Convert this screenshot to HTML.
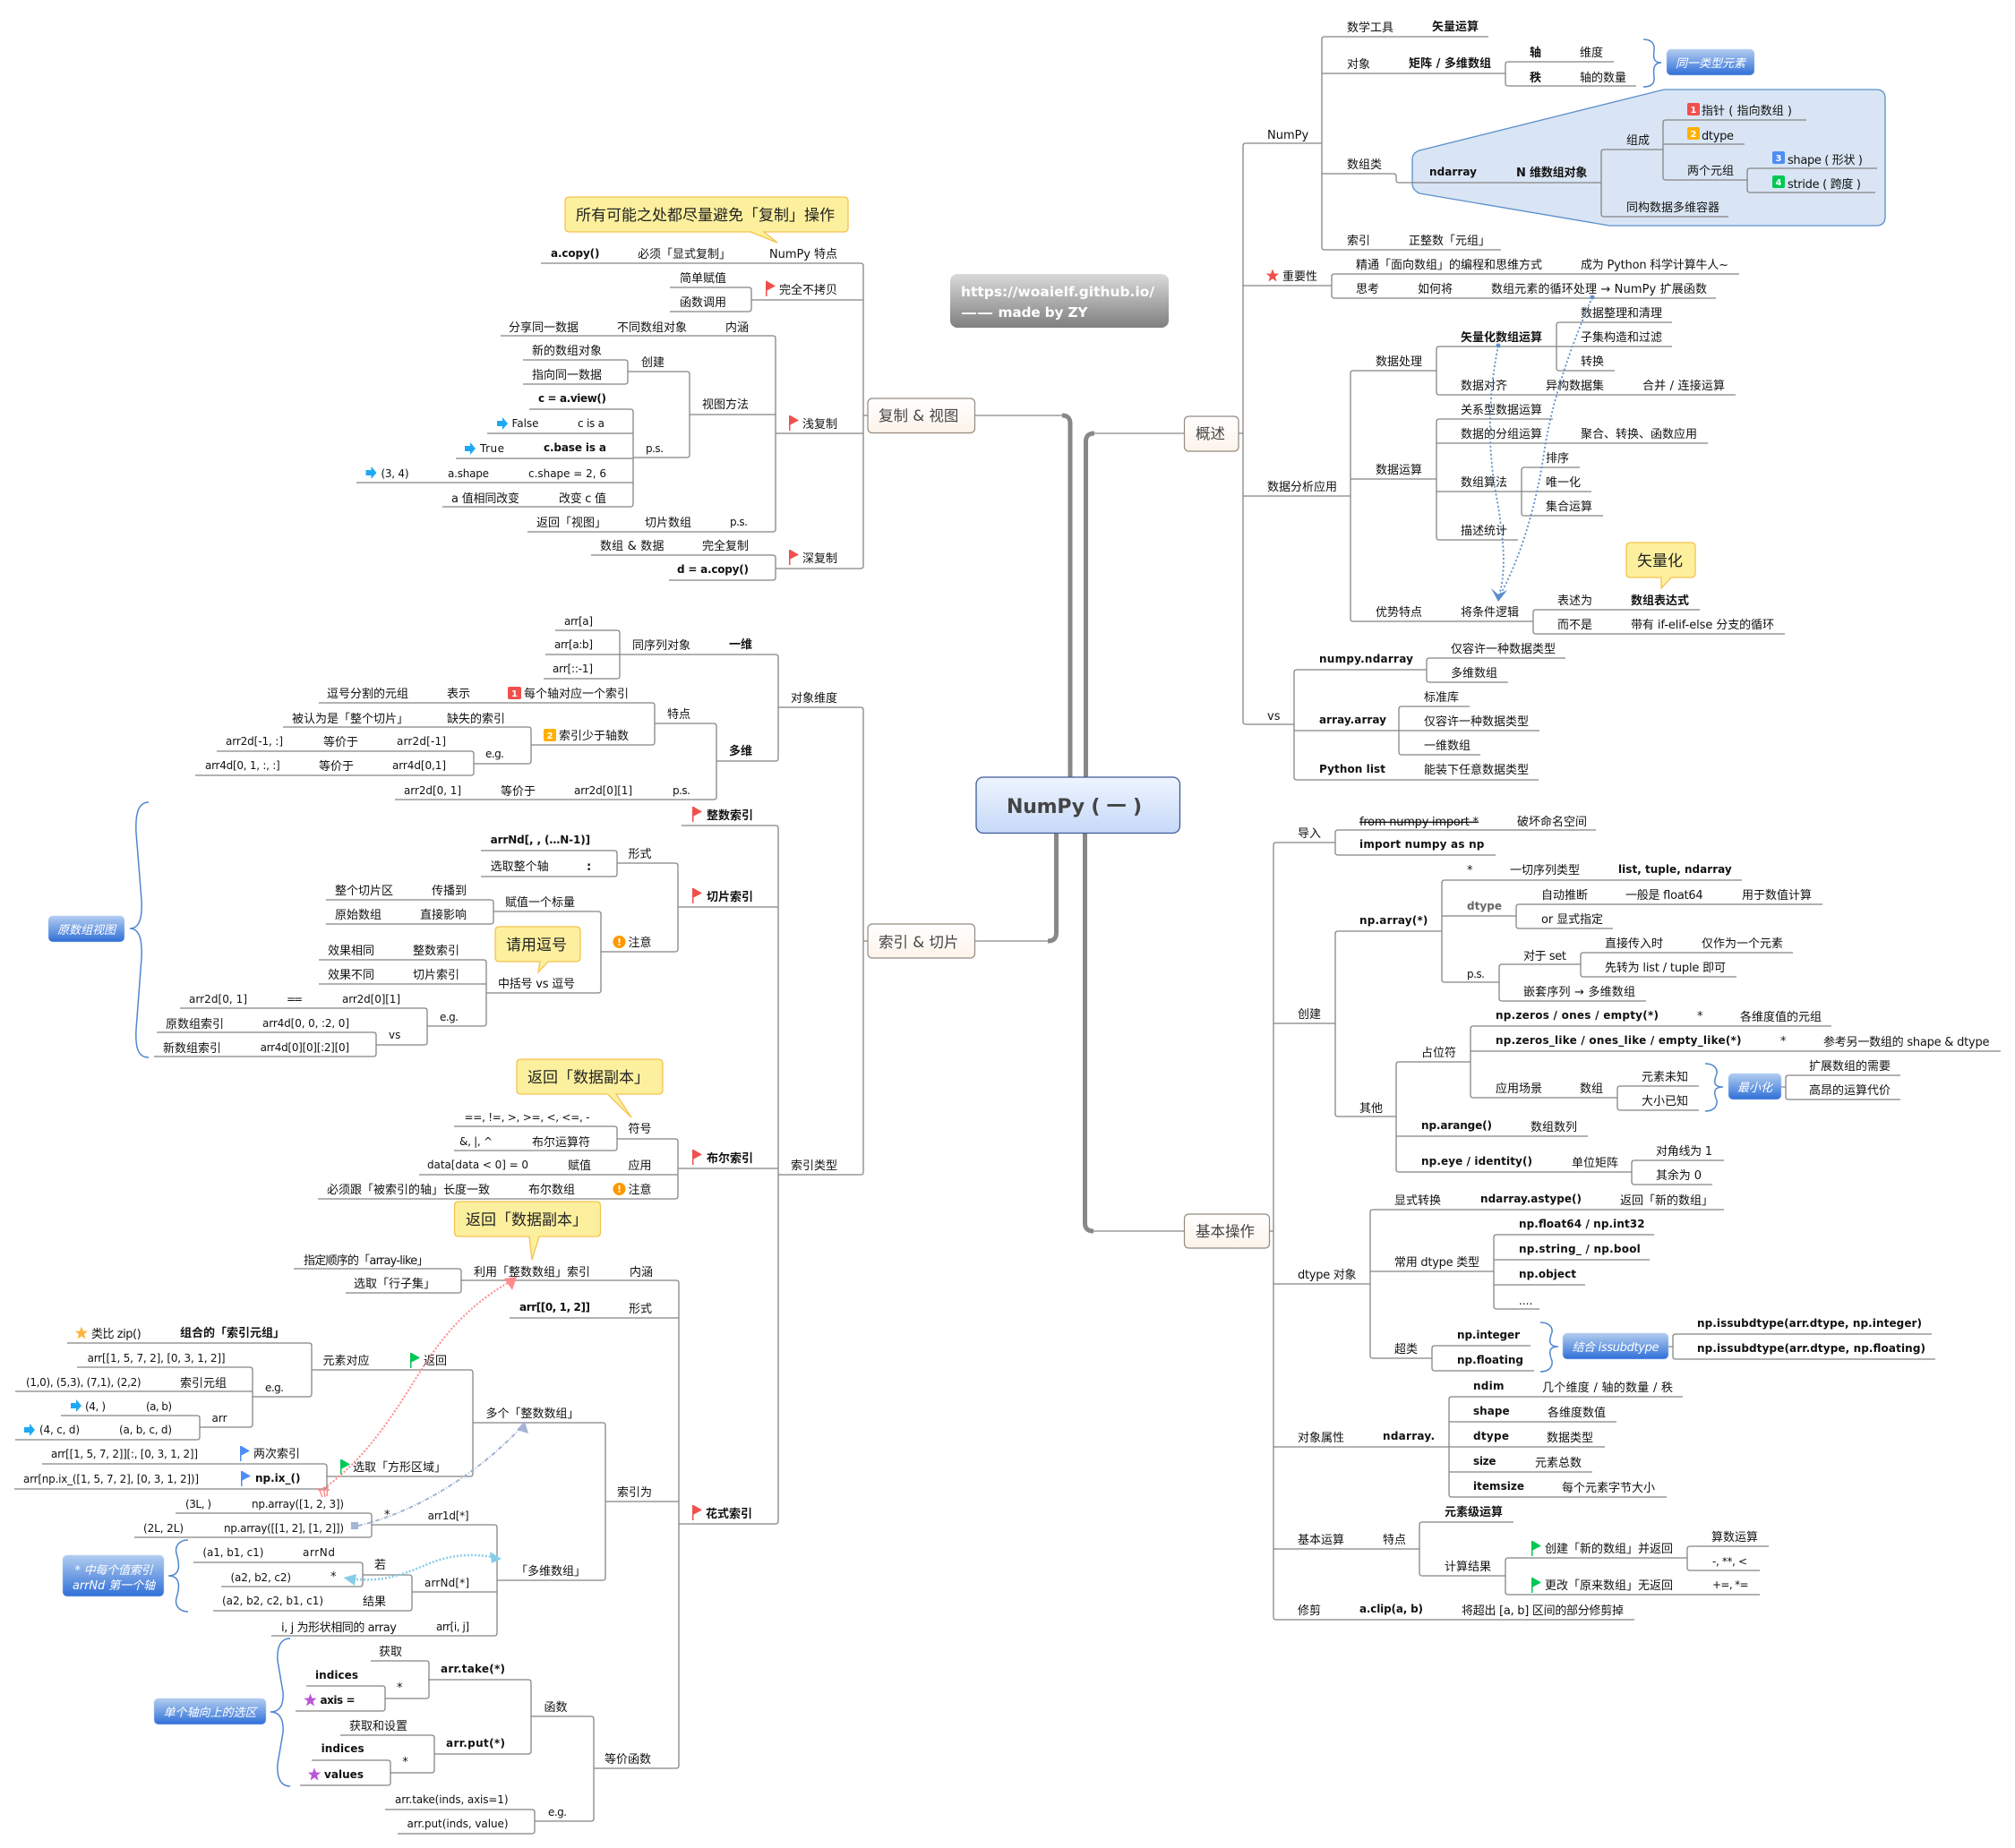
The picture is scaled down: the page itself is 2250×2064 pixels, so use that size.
<!DOCTYPE html>
<html lang="zh"><head><meta charset="utf-8"><title>NumPy (一)</title>
<style>
html,body{margin:0;padding:0;background:#fff}
svg{display:block}
text{font-family:"DejaVu Sans","Noto Sans CJK SC",sans-serif;font-size:13px;fill:#111;white-space:pre}
.b{font-weight:bold;font-size:12px;transform:translateY(-1px)}
.r{font-size:12px;transform:translateY(-1px)}
.c{font-weight:bold}
.g{fill:#666;font-weight:bold;font-size:12px}
.m{font-size:17px;fill:#222}
.h{font-size:16.5px;fill:#444}
.w{fill:#fff;font-style:italic;text-anchor:middle}
.n{fill:#fff;font-size:10px;font-weight:bold;text-anchor:middle}
.k{fill:#fff;font-weight:bold;font-size:15.4px}
.l{fill:none;stroke:#858585;stroke-width:1.3}
.br{fill:none;stroke:#4f86d0;stroke-width:1.5}
.cal{fill:#fcf09e;stroke:#f5c24f;stroke-width:1.3}
.sm{fill:url(#blue);stroke:#b9d0f0;stroke-width:.5}
.top{fill:url(#peach);stroke:#938a80;stroke-width:1.2}
</style></head><body>
<svg xmlns="http://www.w3.org/2000/svg" width="2250" height="2064" viewBox="0 0 2250 2064">
<defs>
<linearGradient id="blue" x1="0" y1="0" x2="0" y2="1"><stop offset="0" stop-color="#b3cdf0"/><stop offset="1" stop-color="#2f6fd8"/></linearGradient>
<linearGradient id="peach" x1="0" y1="0" x2="0" y2="1"><stop offset="0" stop-color="#ffffff"/><stop offset="1" stop-color="#fdf3ea"/></linearGradient>
<linearGradient id="root" x1="0" y1="0" x2="0" y2="1"><stop offset="0" stop-color="#eef4fe"/><stop offset="1" stop-color="#c6d9f8"/></linearGradient>
<linearGradient id="gray" x1="0" y1="0" x2="0" y2="1"><stop offset="0" stop-color="#dadada"/><stop offset="1" stop-color="#7f7f7f"/></linearGradient>
<path id="flag" d="M0-8h1.5l9.500 5.500-9.500 5v6.500h-1.500z"/>
<polygon id="star" points="0,-7.500 2,-2.400 7.200,-2.400 3,1 4.500,6.500 0,3.400 -4.500,6.500 -3,1 -7.200,-2.400 -2,-2.400"/>
<path id="arr" d="M0-3h6v-4l6 7-6 7v-4h-6z"/>
</defs>

<!-- stems -->
<g fill="none" stroke="#b5b5b5" stroke-width="2">
<path d="M1088 464H1187"/><path d="M1220 484H1322"/><path d="M1089 1051H1172"/><path d="M1219 1375H1322"/>
</g>
<g fill="none" stroke="#888" stroke-width="5">
<path d="M1195 870V473Q1195 464 1186 464"/>
<path d="M1212.500 870V493Q1212.500 484 1222 484"/>
<path d="M1179.500 928V1042Q1179.500 1051 1170 1051"/>
<path d="M1211.500 928V1366Q1211.500 1375 1221 1375"/>
</g>

<!-- ndarray highlighted boundary -->
<path d="M1858 100H2095Q2105 100 2105 110V242Q2105 252 2095 252H1797L1585 216Q1577 212 1577 205V178Q1577 171 1585 168Z" fill="#d9e5f4" stroke="#5b8fcc" stroke-width="1.300"/>

<!-- branches -->
<path class="l" d="M1476 160H1391q-3 0-3 3V806q0 3 3 3H1445M1388 319H1487M1388 554H1508M1383 484H1388
M1662 41H1479q-3 0-3 3V276q0 3 3 3H1676M1476 82H1681M1476 194H1556q3 0 3 3V201q0 3 3 3H1788
M1802 69H1684q-3 0-3 3V93q0 3 3 3H1827
M1857 167H1791q-3 0-3 3V239q0 3 3 3H1930
M2017 134H1860q-3 0-3 3V198q0 3 3 3H1951M1857 161H1948
M2096 188H1954q-3 0-3 3V212q0 3 3 3H2094
M1942 306H1490q-3 0-3 3V330q0 3 3 3H1916
M1604 414H1511q-3 0-3 3V691q0 3 3 3H1712M1508 535H1604
M1738 387H1607q-3 0-3 3V438q0 3 3 3H1938
M1867 360H1741q-3 0-3 3V411q0 3 3 3H1803M1738 387H1867
M1734 468H1607q-3 0-3 3V600q0 3 3 3H1695M1604 495H1907M1604 549H1777
M1764 522H1702q-3 0-3 3V573q0 3 3 3H1790
M1898 681H1715q-3 0-3 3V705q0 3 3 3H1993
M1593 748H1448q-3 0-3 3V868q0 3 3 3H1718M1445 816H1719
M1748 735H1596q-3 0-3 3V759q0 3 3 3H1684
M1641 789H1565q-3 0-3 3V840q0 3 3 3H1653

M1491 941H1425q-3 0-3 3V1806q0 3 3 3H1825M1422 1143H1491M1422 1434H1530M1422 1616H1792M1422 1730H1585M1417 1375H1422
M1782 927H1494q-3 0-3 3V952q0 3 3 3H1670
M1610 1040H1494q-3 0-3 3V1244q0 3 3 3H1559
M1945 983H1613q-3 0-3 3V1094q0 3 3 3H1674M1610 1023H1693
M2035 1010H1696q-3 0-3 3V1034q0 3 3 3H1801
M1765 1077H1677q-3 0-3 3V1115q0 3 3 3H1838
M2002 1064H1768q-3 0-3 3V1088q0 3 3 3H1939
M1642 1186H1562q-3 0-3 3V1306q0 3 3 3H1822M1559 1269H1773
M2045 1146H1645q-3 0-3 3V1223q0 3 3 3H1806M1642 1174H2234
M1897 1213H1809q-3 0-3 3V1237q0 3 3 3H1897
M2122 1201H1997q-3 0-3 3V1225q0 3 3 3H2122M1989 1214H1994
M1925 1296H1825q-3 0-3 3V1320q0 3 3 3H1912
M1925 1351H1533q-3 0-3 3V1514q0 3 3 3H1599M1530 1420H1668
M1847 1379H1671q-3 0-3 3V1459q0 3 3 3H1719M1668 1407H1842M1668 1435H1770
M1709 1503H1602q-3 0-3 3V1528q0 3 3 3H1713
M2157 1490H1871q-3 0-3 3V1515q0 3 3 3H2161M1863 1504H1868
M1879 1560H1621q-3 0-3 3V1669q0 3 3 3H1861M1618 1588H1805M1618 1644H1778
M1690 1700H1588q-3 0-3 3V1757q0 3 3 3H1681
M1884 1740H1684q-3 0-3 3V1778q0 3 3 3H1965
M1975 1727H1887q-3 0-3 3V1751q0 3 3 3H1965

M604 294H961q3 0 3 3V632q0 3-3 3H866M964 335H839M964 484H866M969 464H964
M748 321H836q3 0 3 3V345q0 3-3 3H748
M559 375H863q3 0 3 3V591q0 3-3 3H589M866 463H770
M701 415H767q3 0 3 3V508q0 3-3 3H707
M584 402H698q3 0 3 3V426q0 3-3 3H584
M591 457H704q3 0 3 3V563q0 3-3 3H494M707 484H544M707 512H509M707 539H398
M660 620H863q3 0 3 3V645q0 3-3 3H747
M869 790H961q3 0 3 3V1309q0 3-3 3H869M969 1051H964
M609 731H866q3 0 3 3V847q0 3-3 3H800
M620 704H689q3 0 3 3V755q0 3-3 3H607
M731 808H797q3 0 3 3V890q0 3-3 3H441
M356 785H728q3 0 3 3V829q0 3-3 3H593
M316 812H590q3 0 3 3V850q0 3-3 3H529
M242 839H526q3 0 3 3V863q0 3-3 3H218
M761 922H866q3 0 3 3V1699q0 3-3 3H758M869 1013H757M869 1305H757
M689 964H754q3 0 3 3V1060q0 3-3 3H671
M537 950H686q3 0 3 3V976q0 3-3 3H537
M551 1018H668q3 0 3 3V1106q0 3-3 3H543
M364 1005H548q3 0 3 3V1029q0 3-3 3H364
M356 1072H540q3 0 3 3V1143q0 3-3 3H477M543 1099H356
M201 1126H474q3 0 3 3V1164q0 3-3 3H420
M175 1153H417q3 0 3 3V1177q0 3-3 3H172
M689 1272H754q3 0 3 3V1336q0 3-3 3H355M757 1312H468
M507 1258H686q3 0 3 3V1282q0 3-3 3H507
M515 1430H755q3 0 3 3V1972q0 3-3 3H663M758 1472H569M758 1677H676
M328 1417H512q3 0 3 3V1441q0 3-3 3H386
M528 1589H673q3 0 3 3V1762q0 3-3 3H555
M348 1530H525q3 0 3 3V1646q0 3-3 3H365
M75 1500H345q3 0 3 3V1557q0 3-3 3H282
M86 1527H279q3 0 3 3V1591q0 3-3 3H223M282 1554H17
M68 1581H220q3 0 3 3V1605q0 3-3 3H17
M47 1635H362q3 0 3 3V1660q0 3-3 3H16
M415 1703H552q3 0 3 3V1824q0 3-3 3H303M555 1778H460
M196 1690H412q3 0 3 3V1714q0 3-3 3H150
M405 1759H457q3 0 3 3V1796q0 3-3 3H238
M216 1745H402q3 0 3 3V1769q0 3-3 3H247
M593 1917H660q3 0 3 3V2031q0 3-3 3H597
M478 1876H590q3 0 3 3V1956q0 3-3 3H485
M414 1855H476q3 0 3 3V1894q0 3-3 3H430
M342 1883H427q3 0 3 3V1908q0 3-3 3H330
M380 1938H482q3 0 3 3V1977q0 3-3 3H436
M348 1966H433q3 0 3 3V1991q0 3-3 3H335
M430 2021H594q3 0 3 3V2045q0 3-3 3H444"/>

<!-- braces -->
<path class="br" d="M1835 44C1843 44 1848 48 1847 56C1846 64 1846 70 1855 70C1846 70 1846 78 1847 86C1848 94 1843 97 1835 97"/>
<path class="br" d="M1904 1188C1912 1188 1918 1192 1917 1199C1914 1207 1912 1214 1924 1214C1912 1214 1914 1222 1917 1229C1918 1237 1912 1241 1904 1241"/>
<path class="br" d="M1720 1477C1728 1477 1734 1481 1733 1488C1730 1496 1728 1504 1740 1504C1728 1504 1730 1512 1733 1520C1734 1528 1728 1532 1720 1532"/>
<path class="br" d="M166 896C154 896 151 910 152 930L158 1005C159 1025 156 1037 145 1037C156 1037 159 1050 158 1070L152 1150C151 1170 154 1181 166 1181"/>
<path class="br" d="M210 1720C200 1720 195 1727 197 1735C200 1745 203 1760 188 1760C203 1760 200 1775 197 1785C195 1793 200 1800 210 1800"/>
<path class="br" d="M324 1830C313 1830 309 1840 310 1855L316 1890C317 1905 312 1912 302 1912C312 1912 317 1920 316 1935L310 1970C309 1985 313 1995 324 1995"/>

<!-- summary boxes -->
<rect class="sm" x="1861" y="55" width="98" height="29" rx="5"/><text class="w" x="1910" y="75">同一类型元素</text>
<rect class="sm" x="1930" y="1199" width="59" height="29" rx="5"/><text class="w" x="1959.500" y="1219">最小化</text>
<rect class="sm" x="1745" y="1489" width="118" height="29" rx="5"/><text class="w" x="1804" y="1509" textLength="97">结合 issubdtype</text>
<rect class="sm" x="54" y="1023" width="85" height="29" rx="5"/><text class="w" x="96.500" y="1043">原数组视图</text>
<rect class="sm" x="70" y="1737" width="113" height="46" rx="5"/><text class="w" x="127" y="1758" textLength="87">* 中每个值索引</text><text class="w" x="127" y="1775" textLength="92">arrNd 第一个轴</text>
<rect class="sm" x="172" y="1897" width="125" height="29" rx="5"/><text class="w" x="234.500" y="1917">单个轴向上的选区</text>

<!-- callouts -->
<path class="cal" d="M1821 606H1888q5 0 5 5V640q0 5-5 5H1866L1855 657V645H1821q-5 0-5-5V611q0-5 5-5Z"/><text class="m" x="1828" y="632">矢量化</text>
<path class="cal" d="M636 220H942q5 0 5 5V254q0 5-5 5H853L868 271L838 259H636q-5 0-5-5V225q0-5 5-5Z"/><text class="m" x="643" y="246">所有可能之处都尽量避免「复制」操作</text>
<path class="cal" d="M558 1035H643q5 0 5 5V1069q0 5-5 5H612L601 1086L603 1074H558q-5 0-5-5V1040q0-5 5-5Z"/><text class="m" x="565" y="1061">请用逗号</text>
<path class="cal" d="M582 1183H735q5 0 5 5V1217q0 5-5 5H688L705 1248L678.500 1222H582q-5 0-5-5V1188q0-5 5-5Z"/><text class="m" x="589" y="1209">返回「数据副本」</text>
<path class="cal" d="M512.500 1342H665.500q5 0 5 5V1376q0 5-5 5H602L594 1407L591 1381H512.500q-5 0-5-5V1347q0-5 5-5Z"/><text class="m" x="520" y="1368">返回「数据副本」</text>

<!-- top level boxes -->
<rect x="1090" y="868" width="227.500" height="62.500" rx="8" fill="url(#root)" stroke="#3c5a96" stroke-width="1.300"/>
<text x="1124" y="908" textLength="151" style="font-size:22px;font-weight:bold;fill:#444">NumPy ( 一 )</text>
<rect x="1061" y="306" width="244" height="60" rx="8" fill="url(#gray)"/>
<text class="k" x="1073" y="331" textLength="216">https://woaielf.github.io/</text>
<text class="k" x="1073" y="354" textLength="36" lengthAdjust="spacingAndGlyphs">——</text><text class="k" x="1114.500" y="354" textLength="100">made by ZY</text>
<rect class="top" x="1322.500" y="465" width="60.500" height="39" rx="5"/><text class="h" x="1335" y="490">概述</text>
<rect class="top" x="1322.500" y="1356" width="95" height="38" rx="5"/><text class="h" x="1335" y="1381">基本操作</text>
<rect class="top" x="969" y="445" width="119.500" height="38.500" rx="5"/><text class="h" x="981" y="470">复制 &amp; 视图</text>
<rect class="top" x="969" y="1032" width="119.500" height="38" rx="5"/><text class="h" x="981" y="1058">索引 &amp; 切片</text>

<!-- 概述 text -->
<text x="1415" y="155">NumPy</text>
<text x="1504" y="35">数学工具</text><text class="c" x="1599" y="34">矢量运算</text>
<text x="1504" y="76">对象</text><text class="c" x="1573" y="75" textLength="92">矩阵 / 多维数组</text>
<text class="c" x="1708" y="63">轴</text><text x="1764" y="63">维度</text>
<text class="c" x="1708" y="91">秩</text><text x="1764" y="91">轴的数量</text>
<text x="1504" y="188">数组类</text>
<text class="b" x="1596" y="197" textLength="53">ndarray</text><text class="c" x="1693" y="197" textLength="79.400">N 维数组对象</text>
<text x="1816" y="161">组成</text><text x="1816" y="236">同构数据多维容器</text>
<rect x="1884" y="115" width="14" height="14" rx="2" fill="#f0504d"/><text class="n" x="1891" y="126">1</text><text x="1900" y="128" textLength="101">指针 ( 指向数组 )</text>
<rect x="1884" y="142" width="14" height="14" rx="2" fill="#ffb000"/><text class="n" x="1891" y="153">2</text><text x="1900" y="156" textLength="36">dtype</text>
<text x="1884" y="195">两个元组</text>
<rect x="1979" y="169" width="14" height="14" rx="2" fill="#4e8df5"/><text class="n" x="1986" y="180">3</text><text x="1996" y="183" textLength="84">shape ( 形状 )</text>
<rect x="1979" y="196" width="14" height="14" rx="2" fill="#00c853"/><text class="n" x="1986" y="207">4</text><text x="1996" y="210" textLength="82">stride ( 跨度 )</text>
<text x="1504" y="273">索引</text><text x="1573" y="273">正整数「元组」</text>
<use href="#star" x="1421" y="308" fill="#f0504d"/><text x="1432" y="313">重要性</text>
<text x="1514" y="300">精通「面向数组」的编程和思维方式</text><text x="1765" y="300" textLength="165">成为 Python 科学计算牛人~</text>
<text x="1514" y="327">思考</text><text x="1583" y="327">如何将</text><text x="1665" y="327" textLength="241">数组元素的循环处理 → NumPy 扩展函数</text>
<text x="1415" y="548">数据分析应用</text>
<text x="1536" y="408">数据处理</text>
<text class="c" x="1631" y="381">矢量化数组运算</text>
<text x="1765" y="354">数据整理和清理</text><text x="1765" y="381">子集构造和过滤</text><text x="1765" y="408">转换</text>
<text x="1631" y="435">数据对齐</text><text x="1726" y="435">异构数据集</text><text x="1834" y="435" textLength="92">合并 / 连接运算</text>
<text x="1536" y="529">数据运算</text>
<text x="1631" y="462">关系型数据运算</text>
<text x="1631" y="489">数据的分组运算</text><text x="1765" y="489">聚合、转换、函数应用</text>
<text x="1631" y="543">数组算法</text><text x="1726" y="516">排序</text><text x="1726" y="543">唯一化</text><text x="1726" y="570">集合运算</text>
<text x="1631" y="597">描述统计</text>
<text x="1536" y="688">优势特点</text><text x="1631" y="688">将条件逻辑</text>
<text x="1739" y="675">表述为</text><text class="c" x="1821" y="675">数组表达式</text>
<text x="1739" y="702">而不是</text><text x="1821" y="702" textLength="160">带有 if-elif-else 分支的循环</text>
<text x="1415" y="804">vs</text>
<text class="b" x="1473" y="741" textLength="105">numpy.ndarray</text>
<text x="1620" y="729">仅容许一种数据类型</text><text x="1620" y="756">多维数组</text>
<text class="b" x="1473" y="809" textLength="75">array.array</text>
<text x="1590" y="783">标准库</text><text x="1590" y="810">仅容许一种数据类型</text><text x="1590" y="837">一维数组</text>
<text class="b" x="1473" y="864" textLength="74">Python list</text><text x="1590" y="864">能装下任意数据类型</text>

<!-- 基本操作 text -->
<text x="1449" y="935">导入</text>
<text x="1518" y="922" text-decoration="line-through" textLength="133">from numpy import *</text><text x="1694" y="922">破坏命名空间</text>
<text class="b" x="1518" y="948" textLength="139.400">import numpy as np</text>
<text x="1449" y="1137">创建</text>
<text class="b" x="1518" y="1033" textLength="76.400">np.array(*)</text>
<text x="1638" y="976">*</text><text x="1686" y="976">一切序列类型</text><text class="b" x="1807" y="976" textLength="126.700">list, tuple, ndarray</text>
<text class="g" x="1638" y="1016" textLength="39">dtype</text>
<text x="1721" y="1004">自动推断</text><text x="1815" y="1004" textLength="86.700">一般是 float64</text><text x="1945" y="1004">用于数值计算</text>
<text x="1721" y="1031" textLength="69">or 显式指定</text>
<text class="r" x="1638" y="1093" textLength="20">p.s.</text>
<text x="1701" y="1072" textLength="48">对于 set</text>
<text x="1792" y="1058">直接传入时</text><text x="1900" y="1058">仅作为一个元素</text>
<text x="1792" y="1085" textLength="135">先转为 list / tuple 即可</text>
<text x="1701" y="1112" textLength="125">嵌套序列 → 多维数组</text>
<text x="1518" y="1242">其他</text>
<text x="1587" y="1180">占位符</text>
<text class="b" x="1670" y="1139" textLength="182">np.zeros / ones / empty(*)</text><text x="1895" y="1139">*</text><text x="1943" y="1140">各维度值的元组</text>
<text class="b" x="1670" y="1167" textLength="274.500">np.zeros_like / ones_like / empty_like(*)</text><text x="1988" y="1167">*</text><text x="2036" y="1168" textLength="185.500">参考另一数组的 shape &amp; dtype</text>
<text x="1670" y="1220">应用场景</text><text x="1764" y="1220">数组</text>
<text x="1833" y="1207">元素未知</text><text x="1833" y="1234">大小已知</text>
<text x="2020" y="1195">扩展数组的需要</text><text x="2020" y="1222">高昂的运算代价</text>
<text class="b" x="1587" y="1262" textLength="79">np.arange()</text><text x="1709" y="1263">数组数列</text>
<text class="b" x="1587" y="1302" textLength="124">np.eye / identity()</text><text x="1755" y="1303">单位矩阵</text>
<text x="1849" y="1290" textLength="63">对角线为 1</text><text x="1849" y="1317" textLength="51">其余为 0</text>
<text x="1449" y="1428" textLength="65.500">dtype 对象</text>
<text x="1557" y="1345">显式转换</text><text class="b" x="1653" y="1344" textLength="113">ndarray.astype()</text><text x="1809" y="1345">返回「新的数组」</text>
<text x="1557" y="1414" textLength="95">常用 dtype 类型</text>
<text class="b" x="1696" y="1372" textLength="140.600">np.float64 / np.int32</text>
<text class="b" x="1696" y="1400" textLength="135.800">np.string_ / np.bool</text>
<text class="b" x="1696" y="1428" textLength="64">np.object</text>
<text class="r" x="1696" y="1458">....</text>
<text x="1557" y="1511">超类</text>
<text class="b" x="1627" y="1496" textLength="70">np.integer</text><text class="b" x="1627" y="1524" textLength="74">np.floating</text>
<text class="b" x="1895" y="1483" textLength="251">np.issubdtype(arr.dtype, np.integer)</text>
<text class="b" x="1895" y="1511" textLength="255">np.issubdtype(arr.dtype, np.floating)</text>
<text x="1449" y="1610">对象属性</text><text class="b" x="1544" y="1609" textLength="58">ndarray.</text>
<text class="b" x="1645" y="1553" textLength="34.500">ndim</text><text x="1722" y="1554" textLength="146">几个维度 / 轴的数量 / 秩</text>
<text class="b" x="1645" y="1581" textLength="40.600">shape</text><text x="1728" y="1582">各维度数值</text>
<text class="b" x="1645" y="1609" textLength="40">dtype</text><text x="1727" y="1610">数据类型</text>
<text class="b" x="1645" y="1637" textLength="25.500">size</text><text x="1714" y="1638">元素总数</text>
<text class="b" x="1645" y="1665" textLength="57">itemsize</text><text x="1744" y="1666">每个元素字节大小</text>
<text x="1449" y="1724">基本运算</text><text x="1544" y="1724">特点</text>
<text class="c" x="1613" y="1693">元素级运算</text>
<text x="1613" y="1754">计算结果</text>
<use href="#flag" x="1710" y="1729" fill="#00c853"/><text x="1725" y="1734">创建「新的数组」并返回</text>
<use href="#flag" x="1710" y="1770" fill="#00c853"/><text x="1725" y="1775">更改「原来数组」无返回</text>
<text x="1911" y="1721">算数运算</text><text class="r" x="1912" y="1749" textLength="39">-, **, &lt;</text><text class="r" x="1912" y="1775" textLength="40.600">+=, *=</text>
<text x="1449" y="1803">修剪</text><text class="b" x="1518" y="1802" textLength="71">a.clip(a, b)</text><text x="1632" y="1803" textLength="181">将超出 [a, b] 区间的部分修剪掉</text>

<!-- 复制 & 视图 text -->
<text class="b" x="615" y="288" textLength="54.500">a.copy()</text><text x="712" y="288">必须「显式复制」</text><text x="859" y="288" textLength="76">NumPy 特点</text>
<use href="#flag" x="855" y="322" fill="#f0504d"/><text x="870" y="328">完全不拷贝</text>
<text x="759" y="315">简单赋值</text><text x="759" y="342">函数调用</text>
<use href="#flag" x="881" y="472" fill="#f0504d"/><text x="896" y="478">浅复制</text>
<text x="568" y="370">分享同一数据</text><text x="689" y="370">不同数组对象</text><text x="810" y="370">内涵</text>
<text x="784" y="456">视图方法</text><text x="716" y="409">创建</text>
<text x="594" y="396">新的数组对象</text><text x="594" y="423">指向同一数据</text>
<text class="r" x="721" y="506" textLength="20">p.s.</text>
<text class="b" x="601" y="450" textLength="76">c = a.view()</text>
<use href="#arr" x="555" y="473" fill="#1fa9f5"/><text class="r" x="571.500" y="478" textLength="30">False</text><text class="r" x="645" y="478" textLength="30">c is a</text>
<use href="#arr" x="519" y="501" fill="#1fa9f5"/><text class="r" x="536" y="506" textLength="27">True</text><text class="b" x="607" y="505" textLength="70">c.base is a</text>
<use href="#arr" x="408.500" y="528" fill="#1fa9f5"/><text class="r" x="425.500" y="534" textLength="31">(3, 4)</text><text class="r" x="500" y="534" textLength="46">a.shape</text><text class="r" x="590" y="534" textLength="87">c.shape = 2, 6</text>
<text x="504" y="561" textLength="76">a 值相同改变</text><text x="624" y="561" textLength="53">改变 c 值</text>
<text x="599" y="588">返回「视图」</text><text x="720" y="588">切片数组</text><text class="r" x="815" y="588" textLength="20">p.s.</text>
<use href="#flag" x="881" y="622" fill="#f0504d"/><text x="896" y="628">深复制</text>
<text x="670" y="614" textLength="71.500">数组 &amp; 数据</text><text x="784" y="614">完全复制</text>
<text class="b" x="756" y="641" textLength="80">d = a.copy()</text>

<!-- 索引 & 切片 text -->
<text x="883" y="784">对象维度</text>
<text class="c" x="814" y="724">一维</text><text x="706" y="725">同序列对象</text>
<text class="r" x="630" y="699" textLength="32">arr[a]</text><text class="r" x="619" y="725" textLength="43">arr[a:b]</text><text class="r" x="617" y="752" textLength="45">arr[::-1]</text>
<text class="c" x="814" y="843">多维</text><text x="745" y="802">特点</text>
<rect x="567" y="767" width="15" height="14" rx="2" fill="#f0504d"/><text class="n" x="574.500" y="778">1</text>
<text x="585" y="779">每个轴对应一个索引</text><text x="499" y="779">表示</text><text x="365" y="779">逗号分割的元组</text>
<rect x="607" y="814" width="14" height="14" rx="2" fill="#ffb000"/><text class="n" x="614" y="825">2</text>
<text x="624" y="826">索引少于轴数</text>
<text x="499" y="807">缺失的索引</text><text x="326" y="807">被认为是「整个切片」</text>
<text class="r" x="542" y="847" textLength="21">e.g.</text>
<text class="r" x="252" y="833" textLength="64">arr2d[-1, :]</text><text x="361" y="833">等价于</text><text class="r" x="443" y="833" textLength="55">arr2d[-1]</text>
<text class="r" x="229" y="860" textLength="83.700">arr4d[0, 1, :, :]</text><text x="356" y="860">等价于</text><text class="r" x="438" y="860" textLength="60">arr4d[0,1]</text>
<text class="r" x="451" y="888" textLength="64">arr2d[0, 1]</text><text x="559" y="888">等价于</text><text class="r" x="641" y="888" textLength="65">arr2d[0][1]</text><text class="r" x="751" y="888" textLength="20">p.s.</text>
<text x="883" y="1306">索引类型</text>
<use href="#flag" x="773" y="909" fill="#f0504d"/><text class="c" x="789" y="915">整数索引</text>
<use href="#flag" x="773" y="1000" fill="#f0504d"/><text class="c" x="789" y="1006">切片索引</text>
<text x="701.500" y="958">形式</text>
<text class="b" x="547.600" y="943" textLength="111.500">arrNd[, , (…N-1)]</text>
<text x="547.600" y="972">选取整个轴</text><text class="c" x="655" y="972">:</text>
<circle cx="691.500" cy="1052" r="7" fill="#ff9800"/><text class="n" x="691.500" y="1056" style="font-size:11px">!</text><text x="701.500" y="1057">注意</text>
<text x="564" y="1012">赋值一个标量</text>
<text x="374" y="999">整个切片区</text><text x="482" y="999">传播到</text>
<text x="374" y="1026">原始数组</text><text x="469" y="1026">直接影响</text>
<text x="556" y="1103" textLength="86">中括号 vs 逗号</text>
<text x="366" y="1066">效果相同</text><text x="461" y="1066">整数索引</text>
<text x="366" y="1093">效果不同</text><text x="461" y="1093">切片索引</text>
<text class="r" x="491" y="1141" textLength="21">e.g.</text>
<text class="r" x="211" y="1121" textLength="65">arr2d[0, 1]</text><text class="r" x="320" y="1121" textLength="18">==</text><text class="r" x="382" y="1121" textLength="65">arr2d[0][1]</text>
<text class="r" x="434" y="1161">vs</text>
<text x="185" y="1148">原数组索引</text><text class="r" x="293" y="1148" textLength="97">arr4d[0, 0, :2, 0]</text>
<text x="182" y="1175">新数组索引</text><text class="r" x="290.600" y="1175" textLength="99.400">arr4d[0][0][:2][0]</text>
<use href="#flag" x="773" y="1292" fill="#f0504d"/><text class="c" x="789" y="1298">布尔索引</text>
<text x="701.500" y="1265">符号</text>
<text class="r" x="518.500" y="1253" textLength="140">==, !=, &gt;, &gt;=, &lt;, &lt;=, -</text>
<text class="r" x="513" y="1280" textLength="37">&amp;, |, ^</text><text x="594" y="1280">布尔运算符</text>
<text class="r" x="477" y="1306" textLength="113">data[data &lt; 0] = 0</text><text x="634" y="1306">赋值</text><text x="701.500" y="1306">应用</text>
<text x="365" y="1333" textLength="182">必须跟「被索引的轴」长度一致</text><text x="590" y="1333">布尔数组</text>
<circle cx="691.500" cy="1328" r="7" fill="#ff9800"/><text class="n" x="691.500" y="1332" style="font-size:11px">!</text><text x="701.500" y="1333">注意</text>

<use href="#flag" x="773" y="1689" fill="#f0504d"/><text class="c" x="788" y="1695">花式索引</text>
<text x="339" y="1412" textLength="139.500">指定顺序的「array-like」</text><text x="395" y="1438">选取「行子集」</text>
<text x="529" y="1425">利用「整数数组」索引</text><text x="703" y="1425">内涵</text>
<text class="b" x="580" y="1465" textLength="79">arr[[0, 1, 2]]</text><text x="702" y="1466">形式</text>
<text x="689" y="1671">索引为</text>
<text x="542.500" y="1583">多个「整数数组」</text>
<text x="360.500" y="1524">元素对应</text>
<use href="#flag" x="458" y="1519" fill="#00c853"/><text x="473" y="1524">返回</text>
<use href="#star" x="91" y="1489" fill="#ffb53c"/><text x="102" y="1494" textLength="55.700">类比 zip()</text><text class="c" x="201" y="1493">组合的「索引元组」</text>
<text class="r" x="296" y="1555" textLength="21">e.g.</text>
<text class="r" x="97.600" y="1522" textLength="154">arr[[1, 5, 7, 2], [0, 3, 1, 2]]</text>
<text class="r" x="29" y="1549" textLength="128.600">(1,0), (5,3), (7,1), (2,2)</text><text x="201" y="1549">索引元组</text>
<text class="r" x="236.500" y="1589" textLength="17">arr</text>
<use href="#arr" x="79" y="1570" fill="#1fa9f5"/><text class="r" x="95" y="1576" textLength="23">(4, )</text><text class="r" x="163" y="1576" textLength="29">(a, b)</text>
<use href="#arr" x="27" y="1597" fill="#1fa9f5"/><text class="r" x="44" y="1602" textLength="45">(4, c, d)</text><text class="r" x="133" y="1602" textLength="59">(a, b, c, d)</text>
<use href="#flag" x="380" y="1638" fill="#00c853"/><text x="394" y="1643">选取「方形区域」</text>
<use href="#flag" x="268" y="1623" fill="#4e8df5"/><text x="283" y="1628">两次索引</text>
<text class="r" x="57" y="1629" textLength="164">arr[[1, 5, 7, 2]][:, [0, 3, 1, 2]]</text>
<use href="#flag" x="269" y="1651" fill="#4e8df5"/><text class="b" x="285" y="1656" textLength="50.500">np.ix_()</text>
<text class="r" x="26" y="1657" textLength="196">arr[np.ix_([1, 5, 7, 2], [0, 3, 1, 2])]</text>
<text x="576" y="1759">「多维数组」</text>
<text class="r" x="477.600" y="1698" textLength="46">arr1d[*]</text><text x="429" y="1696">*</text>
<text class="r" x="207" y="1685" textLength="29">(3L, )</text><text class="r" x="281" y="1685" textLength="103">np.array([1, 2, 3])</text>
<text class="r" x="160" y="1712" textLength="45">(2L, 2L)</text><text class="r" x="250" y="1712" textLength="134">np.array([[1, 2], [1, 2]])</text>
<text class="r" x="474" y="1773" textLength="50">arrNd[*]</text><text x="418" y="1752">若</text>
<text class="r" x="226.400" y="1739" textLength="68">(a1, b1, c1)</text><text class="r" x="338" y="1739" textLength="36">arrNd</text>
<text class="r" x="257.500" y="1767" textLength="67.500">(a2, b2, c2)</text><text x="369" y="1765">*</text>
<text class="r" x="248" y="1793" textLength="113">(a2, b2, c2, b1, c1)</text><text x="405" y="1793">结果</text>
<text x="314" y="1822" textLength="129">i, j 为形状相同的 array</text><text class="r" x="487" y="1822" textLength="37">arr[i, j]</text>
<text x="675" y="1969">等价函数</text><text x="607.500" y="1911">函数</text>
<text class="b" x="492" y="1869" textLength="72">arr.take(*)</text><text x="423" y="1849">获取</text><text x="443" y="1889">*</text>
<text class="b" x="352" y="1876" textLength="48">indices</text>
<use href="#star" x="346.500" y="1899" fill="#b957d8"/><text class="b" x="357.500" y="1904" textLength="39">axis =</text>
<text class="b" x="498" y="1952" textLength="66">arr.put(*)</text><text x="390" y="1932">获取和设置</text><text x="449.400" y="1972">*</text>
<text class="b" x="358.600" y="1958" textLength="48">indices</text>
<use href="#star" x="351" y="1982" fill="#b957d8"/><text class="b" x="362" y="1987" textLength="44">values</text>
<text class="r" x="612" y="2029" textLength="21">e.g.</text>
<text class="r" x="441" y="2015" textLength="126.500">arr.take(inds, axis=1)</text><text class="r" x="454.500" y="2042" textLength="113">arr.put(inds, value)</text>

<!-- relationship curves -->
<g fill="none" stroke="#5b8fcc" stroke-width="1.800" stroke-dasharray="2 2.500">
<path d="M1673 386C1662 440 1660 500 1672 560C1680 610 1682 640 1673 668"/>
<path d="M1778 332C1755 385 1735 440 1725 500C1715 570 1695 630 1673 668"/>
</g>
<circle cx="1673" cy="386" r="2.500" fill="#5b8fcc"/><circle cx="1778" cy="332" r="2.500" fill="#5b8fcc"/>
<polygon points="1665,657 1673,664 1683,659 1673,672" fill="#5b8fcc"/>
<path d="M362 1662C400 1635 425 1600 445 1570C475 1525 500 1470 572 1430" fill="none" stroke="#ff8a8a" stroke-width="2" stroke-dasharray="2 2"/>
<polygon points="577,1426 563,1428 572,1441" fill="#ff8a8a"/>
<path d="M356 1662l4 10M361 1661l2 11M366 1660l-1 11M355 1664h13" fill="none" stroke="#ff8a8a" stroke-width="1.500"/>
<path d="M400 1704C460 1690 530 1650 584 1592" fill="none" stroke="#a3b4d4" stroke-width="2" stroke-dasharray="5 2 1 2"/>
<rect x="392" y="1700" width="8" height="8" fill="#a3b4d4"/>
<polygon points="586,1587 577,1597 590,1601" fill="#a3b4d4"/>
<path d="M390 1763C430 1768 450 1758 475 1748C505 1735 530 1735 556 1740" fill="none" stroke="#87cde8" stroke-width="2.500" stroke-dasharray="2 2"/>
<polygon points="383.600,1762 398,1758 396,1771" fill="#87cde8"/>
<polygon points="560,1741 547,1733 549,1746" fill="#87cde8"/>
</svg>
</body></html>
